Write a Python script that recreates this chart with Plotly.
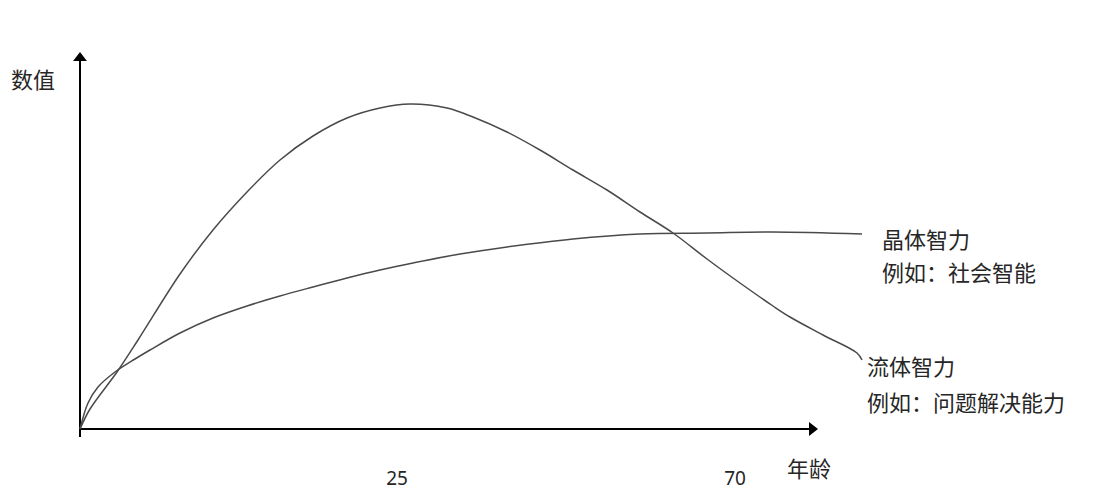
import plotly.graph_objects as go

# curve values (schematic units: x = age axis position, y = value)
fluid_x = [0, 10, 37, 58, 100, 133, 167, 200, 233, 267, 300, 330, 367, 393, 427, 460, 493, 527, 560, 593, 627, 660, 693, 710, 743, 777, 782]
fluid_y = [0, 20, 57, 89, 155, 199, 237, 269, 293, 311, 321, 325, 321, 312, 297, 279, 259, 239, 217, 196, 170, 146, 123, 112, 94, 76, 69]
crystal_x = [0, 8, 18, 35, 55, 70, 100, 133, 167, 200, 233, 267, 300, 333, 380, 427, 493, 560, 627, 693, 782]
crystal_y = [0, 26, 42, 57, 70, 79, 96, 111, 123, 133, 142, 151, 159, 166, 175, 182, 190, 195, 196, 197, 195]

tick_vals = [317, 655]
tick_text = ['25', '70']

x_end = 738
y_end = 377

font_cjk = 'Noto Sans CJK SC'
ink = '#262626'

fig = go.Figure()

# axes with arrowheads
fig.add_trace(go.Scatter(x=[0, 0], y=[-8, y_end - 6], mode='lines',
                         line=dict(color='black', width=2), hoverinfo='skip'))
fig.add_trace(go.Scatter(x=[0], y=[y_end - 6], mode='markers',
                         marker=dict(symbol='triangle-up', size=12, color='black'), hoverinfo='skip'))
fig.add_trace(go.Scatter(x=[0, x_end - 6], y=[0, 0], mode='lines',
                         line=dict(color='black', width=2), hoverinfo='skip'))
fig.add_trace(go.Scatter(x=[x_end - 6], y=[0], mode='markers',
                         marker=dict(symbol='triangle-right', size=12, color='black'), hoverinfo='skip'))

# curves
fig.add_trace(go.Scatter(x=fluid_x, y=fluid_y, mode='lines', name='流体智力',
                         line=dict(color='#4a4a4a', width=1.5, shape='spline', smoothing=1.0)))
fig.add_trace(go.Scatter(x=crystal_x, y=crystal_y, mode='lines', name='晶体智力',
                         line=dict(color='#4a4a4a', width=1.5, shape='spline', smoothing=1.0)))

labels = [
    ('数值', -47, 351, 'center'),
    ('年龄', 705, -38, 'left'),
    ('晶体智力', 800, 191, 'left'),
    ('例如：社会智能', 800, 158, 'left'),
    ('流体智力', 785, 64, 'left'),
    ('例如：问题解决能力', 785, 28, 'left'),
]
for txt, x, y, anchor in labels:
    fig.add_annotation(x=x, y=y, text=txt, showarrow=False, xref='x', yref='y',
                       xanchor=anchor, yanchor='middle',
                       font=dict(family=font_cjk, size=22, color=ink))

# page body has an 8px default margin, so the figure is 8px smaller
fig.update_layout(
    width=1088, height=484,
    margin=dict(l=0, r=0, t=0, b=0),
    plot_bgcolor='white', paper_bgcolor='white',
    showlegend=False,
    xaxis=dict(range=[-72, 1016], showgrid=False, zeroline=False, showline=False,
               tickvals=tick_vals, ticktext=tick_text, ticks='',
               ticklabelposition='inside', automargin=False,
               tickfont=dict(family='Noto Sans', size=19, color=ink)),
    yaxis=dict(range=[-63, 421], showgrid=False, zeroline=False, showline=False,
               showticklabels=False, ticks='', automargin=False),
)

fig.write_html("out.html")
